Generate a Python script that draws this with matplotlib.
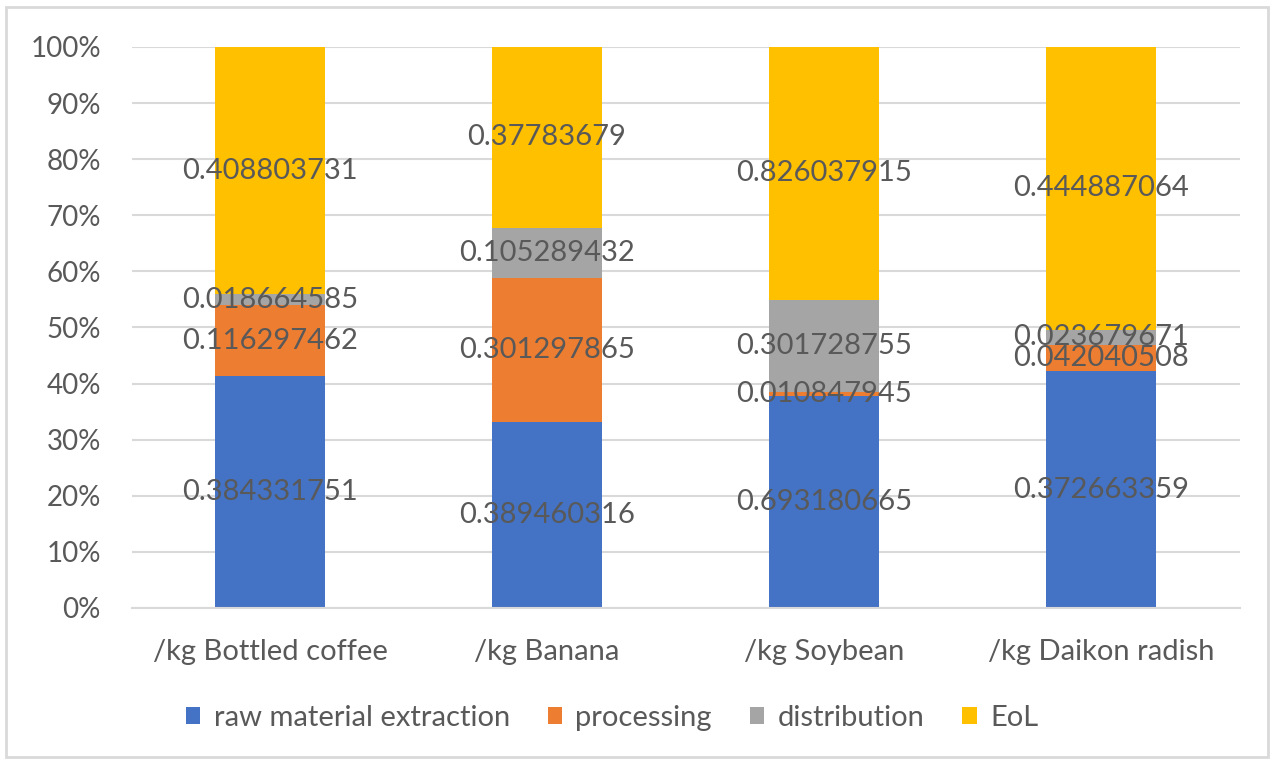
import matplotlib.pyplot as plt
from matplotlib.patches import Rectangle
import numpy as np

categories = ["/kg Bottled coffee", "/kg Banana", "/kg Soybean", "/kg Daikon radish"]
stages = ["raw material extraction", "processing", "distribution", "EoL"]
raw_material = [0.384331751, 0.389460316, 0.693180665, 0.372663359]
processing = [0.116297462, 0.301297865, 0.010847945, 0.042040508]
distribution = [0.018664585, 0.105289432, 0.301728755, 0.023679671]
eol = [0.408803731, 0.37783679, 0.826037915, 0.444887064]
colors = ["#4472c4", "#ed7d31", "#a5a5a5", "#ffc000"]

text_color = "#595959"
plt.rcParams['font.family'] = ['Lato', 'DejaVu Sans']

series = np.array([raw_material, processing, distribution, eol])
shares = series / series.sum(axis=0)

fig = plt.figure(figsize=(12.75, 7.64), dpi=100)
ax = fig.add_axes([131.5 / 1275, 1 - 608 / 764, 1108 / 1275, 561 / 764])

x = np.arange(len(categories))
bottom = np.zeros(len(categories))
for i, name in enumerate(stages):
    ax.bar(x, shares[i], 0.397, bottom=bottom, color=colors[i], label=name, zorder=2)
    for j in range(len(categories)):
        ax.text(x[j], bottom[j] + shares[i][j] / 2, "%.9g" % series[i][j],
                ha="center", va="center", fontsize=21, color=text_color, zorder=3)
    bottom += shares[i]

ax.set_xlim(-0.5, 3.5)
ax.set_ylim(0, 1)
ax.set_yticks(np.arange(0, 1.01, 0.1))
ax.set_yticklabels(["%d%%" % round(v * 100) for v in np.arange(0, 1.01, 0.1)])
ax.set_xticks(x)
ax.set_xticklabels(categories)
ax.tick_params(axis="both", length=0, labelcolor=text_color)
ax.tick_params(axis="x", pad=22, labelsize=21)
ax.tick_params(axis="y", pad=22, labelsize=20)
ax.grid(axis="y", color="#d9d9d9", linewidth=1.5, zorder=0)
for s in ["top", "right", "left"]:
    ax.spines[s].set_visible(False)
ax.spines["bottom"].set_color("#d9d9d9")
ax.spines["bottom"].set_linewidth(1.5)

leg = fig.legend(loc="center", bbox_to_anchor=(612 / 1275, 1 - 718 / 764), ncol=4,
                 frameon=False, fontsize=21, handlelength=0.5, handleheight=0.5,
                 handletextpad=0.45, columnspacing=1.3)
for t in leg.get_texts():
    t.set_color(text_color)

fig.patches.append(Rectangle((6 / 1275, 7 / 764), 1262 / 1275, 750 / 764,
                             transform=fig.transFigure, fill=False,
                             edgecolor="#d9d9d9", linewidth=2))

fig.savefig("out.png", dpi=100)
